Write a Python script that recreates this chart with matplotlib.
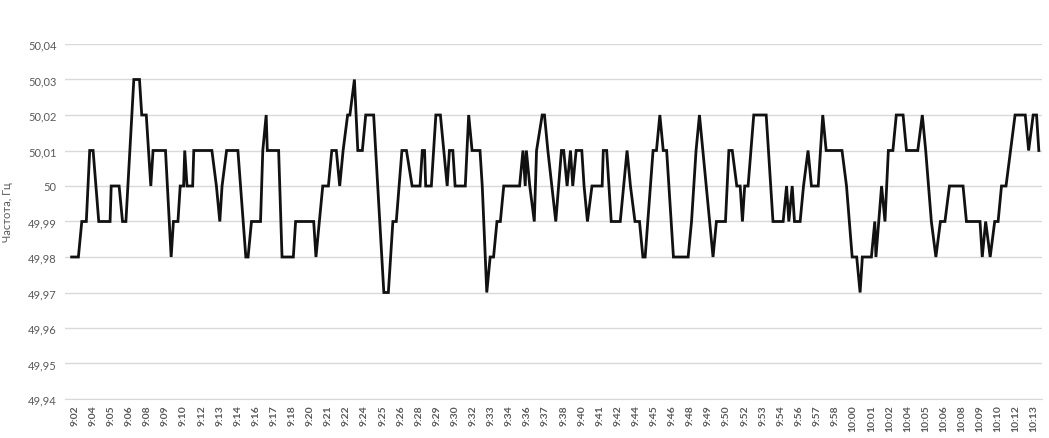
import matplotlib
matplotlib.use("Agg")
import matplotlib.pyplot as plt

# time of each polyline vertex, seconds after 9:02:40
t_sec = [-15, 15, 30, 50, 65, 80, 105, 155, 160, 195, 210, 225, 260, 285, 295, 315, 335, 345, 400, 425,
         435, 455, 465, 480, 485, 495, 520, 525, 605, 625, 640, 650, 670, 720, 755, 765, 780, 820, 830, 845,
         850, 900, 915, 965, 975, 1055, 1065, 1080, 1095, 1120, 1135, 1155, 1170, 1185, 1205, 1215, 1235, 1250, 1270, 1285,
         1320, 1365, 1385, 1405, 1420, 1445, 1465, 1490, 1525, 1535, 1545, 1550, 1575, 1595, 1615, 1630, 1645, 1655, 1670, 1680,
         1725, 1740, 1755, 1790, 1800, 1820, 1835, 1850, 1865, 1880, 1895, 1965, 1980, 1990, 1995, 2010, 2030, 2040, 2065, 2075,
         2090, 2125, 2150, 2160, 2175, 2190, 2200, 2215, 2240, 2250, 2265, 2285, 2330, 2335, 2350, 2370, 2410, 2425, 2440, 2455,
         2475, 2495, 2510, 2520, 2555, 2570, 2585, 2600, 2615, 2645, 2710, 2725, 2745, 2760, 2775, 2790, 2820, 2835, 2875, 2890,
         2905, 2925, 2940, 2950, 2960, 2975, 3000, 3055, 3085, 3130, 3145, 3155, 3170, 3180, 3205, 3220, 3240, 3255, 3285, 3305,
         3320, 3390, 3410, 3435, 3455, 3470, 3480, 3520, 3535, 3540, 3565, 3580, 3595, 3615, 3630, 3660, 3675, 3725, 3745, 3760,
         3785, 3805, 3825, 3845, 3865, 3925, 3940, 4000, 4010, 4025, 4045, 4065, 4080, 4095, 4115, 4135, 4155, 4200, 4215, 4235,
         4250, 4260]

freq = [49.98, 49.98, 49.99, 49.99, 50.01, 50.01, 49.99, 49.99, 50.00, 50.00, 49.99, 49.99, 50.03, 50.03, 50.02, 50.02, 50.00, 50.01, 50.01, 49.98,
        49.99, 49.99, 50.00, 50.00, 50.01, 50.00, 50.00, 50.01, 50.01, 50.00, 49.99, 50.00, 50.01, 50.01, 49.98, 49.98, 49.99, 49.99, 50.01, 50.02,
        50.01, 50.01, 49.98, 49.98, 49.99, 49.99, 49.98, 49.99, 50.00, 50.00, 50.01, 50.01, 50.00, 50.01, 50.02, 50.02, 50.03, 50.01, 50.01, 50.02,
        50.02, 49.97, 49.97, 49.99, 49.99, 50.01, 50.01, 50.00, 50.00, 50.01, 50.01, 50.00, 50.00, 50.02, 50.02, 50.01, 50.00, 50.01, 50.01, 50.00,
        50.00, 50.02, 50.01, 50.01, 50.00, 49.97, 49.98, 49.98, 49.99, 49.99, 50.00, 50.00, 50.01, 50.00, 50.01, 50.00, 49.99, 50.01, 50.02, 50.02,
        50.01, 49.99, 50.01, 50.01, 50.00, 50.01, 50.00, 50.01, 50.01, 50.00, 49.99, 50.00, 50.00, 50.01, 50.01, 49.99, 49.99, 50.00, 50.01, 50.00,
        49.99, 49.99, 49.98, 49.98, 50.01, 50.01, 50.02, 50.01, 50.01, 49.98, 49.98, 49.99, 50.01, 50.02, 50.01, 50.00, 49.98, 49.99, 49.99, 50.01,
        50.01, 50.00, 50.00, 49.99, 50.00, 50.00, 50.02, 50.02, 49.99, 49.99, 50.00, 49.99, 50.00, 49.99, 49.99, 50.00, 50.01, 50.00, 50.00, 50.02,
        50.01, 50.01, 50.00, 49.98, 49.98, 49.97, 49.98, 49.98, 49.99, 49.98, 50.00, 49.99, 50.01, 50.01, 50.02, 50.02, 50.01, 50.01, 50.02, 50.01,
        49.99, 49.98, 49.99, 49.99, 50.00, 50.00, 49.99, 49.99, 49.98, 49.99, 49.98, 49.99, 49.99, 50.00, 50.00, 50.01, 50.02, 50.02, 50.01, 50.02,
        50.02, 50.01]

x_labels = ["9:02", "9:04", "9:05", "9:06", "9:08", "9:09", "9:10", "9:12", "9:13", "9:14",
            "9:16", "9:17", "9:18", "9:20", "9:21", "9:22", "9:24", "9:25", "9:26", "9:28",
            "9:29", "9:30", "9:32", "9:33", "9:34", "9:36", "9:37", "9:38", "9:40", "9:41",
            "9:42", "9:44", "9:45", "9:46", "9:48", "9:49", "9:50", "9:52", "9:53", "9:54",
            "9:56", "9:57", "9:58", "10:00", "10:01", "10:02", "10:04", "10:05", "10:06", "10:08",
            "10:09", "10:10", "10:12", "10:13"]
label_step_sec = 80

y_ticks = [49.94, 49.95, 49.96, 49.97, 49.98, 49.99, 50.00, 50.01, 50.02, 50.03, 50.04]
y_tick_labels = ["49,94", "49,95", "49,96", "49,97", "49,98", "49,99", "50", "50,01", "50,02", "50,03", "50,04"]

plt.rcParams['font.family'] = ['Lato', 'DejaVu Sans']

W, H = 1049, 439
fig = plt.figure(figsize=(W / 100, H / 100), dpi=100)
left_px, right_px, top_px, bottom_px = 65, 1042, 45, 400
ax = fig.add_axes([left_px / W, 1 - bottom_px / H, (right_px - left_px) / W, (bottom_px - top_px) / H])

px_per_sec = 18.1 / label_step_sec
x0 = -(75 - left_px) / px_per_sec
x1 = x0 + (right_px - left_px) / px_per_sec

ax.plot(t_sec, freq, color='#111111', lw=2.0, solid_joinstyle='miter', zorder=3)

ax.set_xlim(x0, x1)
ax.set_ylim(49.94, 50.04)
ax.set_yticks(y_ticks)
ax.set_yticklabels(y_tick_labels)
ax.set_xticks([i * label_step_sec for i in range(len(x_labels))])
ax.set_xticklabels(x_labels, rotation=90, fontweight='bold')

ax.grid(axis='y', color='#d9d9d9', lw=1.0)
ax.set_axisbelow(True)
for s in ['top', 'right', 'left']:
    ax.spines[s].set_visible(False)
ax.spines['bottom'].set_color('#d9d9d9')
ax.tick_params(axis='both', length=0, colors='#595959')
ax.tick_params(axis='y', labelsize=8, pad=6)
ax.tick_params(axis='x', labelsize=7.5, pad=4)

ax.set_ylabel("Частота, Гц", fontsize=8, color='#595959')
ax.yaxis.set_label_coords(-0.053, 0.53)

fig.savefig("out.png", dpi=100, facecolor='white')
